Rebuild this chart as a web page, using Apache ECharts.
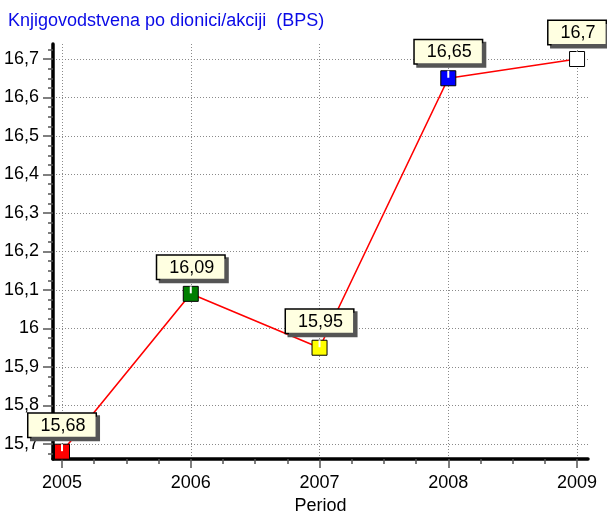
<!DOCTYPE html>
<html>
<head>
<meta charset="utf-8">
<script src="https://cdn.jsdelivr.net/npm/echarts@6/dist/echarts.min.js"></script>
<style>
  html, body { margin: 0; padding: 0; background: #fff; }
  #main { width: 607px; height: 513px; }
</style>
</head>
<body>
<div id="main"></div>
<script>
// podaci
var years = [2005, 2006, 2007, 2008, 2009];
var bps = [15.68, 16.09, 15.95, 16.65, 16.7];
var pointColors = ['#ff0000', '#007f00', '#ffff00', '#0000ff', '#ffffff'];
var yTicks = [15.7, 15.8, 15.9, 16, 16.1, 16.2, 16.3, 16.4, 16.5, 16.6, 16.7];
var yMinorTicks = [15.675, 15.725, 15.75, 15.775, 15.825, 15.85, 15.875, 15.925, 15.95, 15.975,
  16.025, 16.05, 16.075, 16.125, 16.15, 16.175, 16.225, 16.25, 16.275, 16.325, 16.35, 16.375,
  16.425, 16.45, 16.475, 16.525, 16.55, 16.575, 16.625, 16.65, 16.675, 16.725];
var xMinorTicks = [2005.25, 2005.5, 2005.75, 2006.25, 2006.5, 2006.75, 2007.25, 2007.5, 2007.75,
  2008.25, 2008.5, 2008.75];

var xMin = 2004.93, xMax = 2009.085;
var yMin = 15.661, yMax = 16.739;

function comma(v) {
  return String(v).replace('.', ',');
}

var chart = echarts.init(document.getElementById('main'), null, { renderer: 'canvas' });

var lineData = years.map(function (y, i) {
  return {
    value: [y, bps[i]],
    itemStyle: { color: pointColors[i] }
  };
});
var notchData = years.map(function (y, i) {
  return [y, bps[i]];
});

var tickStyle = { color: '#555', width: 1.5 };
// isti okvir za oba grida, bez automatskog smanjivanja
var gridBox = { left: 53, right: 19, top: 44, bottom: 54, containLabel: false, outerBoundsMode: 'none' };

var option = {
  backgroundColor: '#fff',
  animation: false,
  textStyle: { fontFamily: 'Arial, "Liberation Sans", sans-serif' },
  title: {
    text: 'Knjigovodstvena po dionici/akciji  (BPS)',
    left: 3,
    top: 7,
    textStyle: { color: '#0a0ae6', fontSize: 18, fontWeight: 'normal' }
  },
  grid: [
    Object.assign({}, gridBox),
    Object.assign({}, gridBox)
  ],
  xAxis: [
    {
      type: 'value',
      gridIndex: 0,
      min: xMin,
      max: xMax,
      name: 'Period',
      nameLocation: 'middle',
      nameGap: 38,
      nameTextStyle: { color: '#000', fontSize: 18 },
      axisLine: { show: true, onZero: false, lineStyle: { color: '#000', width: 3.5 } },
      axisTick: { show: true, customValues: years, length: 9, lineStyle: tickStyle },
      axisLabel: {
        customValues: years,
        color: '#000',
        fontSize: 18,
        margin: 15,
        formatter: function (v) { return String(v); }
      },
      splitLine: { show: true, lineStyle: { color: '#8a8a8a', width: 1, type: [1, 2] } }
    },
    {
      type: 'value',
      gridIndex: 1,
      min: xMin,
      max: xMax,
      axisLine: { show: false },
      axisTick: { show: true, customValues: xMinorTicks, length: 5, lineStyle: tickStyle },
      axisLabel: { show: false },
      splitLine: { show: false }
    }
  ],
  yAxis: [
    {
      type: 'value',
      gridIndex: 0,
      min: yMin,
      max: yMax,
      axisLine: { show: true, onZero: false, lineStyle: { color: '#000', width: 3.5 } },
      axisTick: { show: true, customValues: yTicks, length: 10, lineStyle: tickStyle },
      axisLabel: {
        customValues: yTicks,
        color: '#000',
        fontSize: 18,
        margin: 14,
        formatter: comma
      },
      splitLine: { show: true, lineStyle: { color: '#8a8a8a', width: 1, type: [1, 2] } }
    },
    {
      type: 'value',
      gridIndex: 1,
      min: yMin,
      max: yMax,
      axisLine: { show: false },
      axisTick: { show: true, customValues: yMinorTicks, length: 5, lineStyle: tickStyle },
      axisLabel: { show: false },
      splitLine: { show: false }
    }
  ],
  series: [
    {
      type: 'line',
      xAxisIndex: 0,
      yAxisIndex: 0,
      data: lineData,
      symbol: 'rect',
      symbolSize: 15,
      showAllSymbol: true,
      lineStyle: { color: '#ff0000', width: 1.6 },
      itemStyle: { borderColor: '#000', borderWidth: 1, opacity: 1 },
      label: {
        show: true,
        position: 'top',
        distance: 7,
        color: '#000',
        fontSize: 18,
        backgroundColor: '#ffffe1',
        borderColor: '#000',
        borderWidth: 1.5,
        padding: [3, 10, 2, 12],
        shadowColor: '#555',
        shadowOffsetX: 3,
        shadowOffsetY: 3,
        shadowBlur: 0,
        formatter: function (p) {
          return comma(p.value[1]);
        }
      },
      emphasis: { disabled: true },
      z: 3
    },
    {
      type: 'scatter',
      xAxisIndex: 0,
      yAxisIndex: 0,
      data: notchData,
      symbol: 'rect',
      symbolSize: [2, 7],
      symbolOffset: [0, -4],
      itemStyle: { color: '#ffffff', opacity: 1 },
      silent: true,
      z: 3
    }
  ]
};

chart.setOption(option);
</script>
</body>
</html>
